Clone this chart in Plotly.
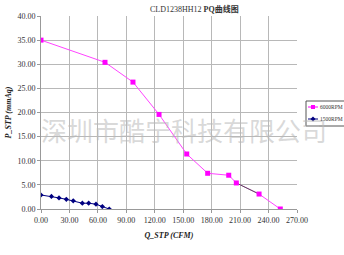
import plotly.graph_objects as go

q_6000 = [0, 67.5, 97, 124.5, 153.7, 175.8, 198, 206, 230, 252.4]
p_6000 = [35.0, 30.4, 26.3, 19.6, 11.4, 7.4, 7.0, 5.4, 3.1, 0.0]
q_1500 = [0, 11, 19, 26.7, 34, 43.6, 50.3, 58, 64.7, 72]
p_1500 = [2.9, 2.6, 2.3, 2.0, 1.7, 1.2, 1.2, 1.0, 0.5, 0.0]
x_ticks = [0, 30, 60, 90, 120, 150, 180, 210, 240, 270]
y_ticks = [0, 5, 10, 15, 20, 25, 30, 35, 40]
series_names = ["6000RPM", "1500RPM"]

PINK = "#ff00ff"
NAVY = "#000080"

fig = go.Figure()
fig.add_trace(go.Scatter(x=q_6000, y=p_6000, mode="lines", showlegend=False,
                         line=dict(color="#ff44ff", width=1)))
# highlighted (dark) segment seen in the original between two points
fig.add_trace(go.Scatter(x=q_6000[7:9], y=p_6000[7:9], mode="lines", showlegend=False,
                         line=dict(color="#555555", width=1)))
fig.add_trace(go.Scatter(x=q_6000, y=p_6000, mode="markers", name=series_names[0], showlegend=False,
                         marker=dict(symbol="square", size=5, color=PINK)))
fig.add_trace(go.Scatter(x=q_1500, y=p_1500, mode="lines+markers", name=series_names[1], showlegend=False,
                         line=dict(color=NAVY, width=1),
                         marker=dict(symbol="diamond", size=4, color=NAVY)))

tickfont = dict(family="Liberation Serif", size=8, color="#333333")
fig.update_layout(
    width=344, height=255,
    margin=dict(l=41, r=47, t=16, b=46, autoexpand=False),
    paper_bgcolor="white", plot_bgcolor="white",
    title=dict(text="CLD1238HH12 <b>PQ曲线图</b>", x=0.565, xanchor="center", y=0.963, yanchor="middle",
               font=dict(family="Liberation Serif, Noto Sans CJK SC", size=8, color="#333333")),
    xaxis=dict(range=[0, 270], tickvals=x_ticks, tickformat=".2f", tickangle=0, showgrid=True,
               gridcolor="#b8b8b8", gridwidth=1, zeroline=False, showline=True, linecolor="#999999",
               ticks="outside", ticklen=3, tickcolor="#999999", tickfont=tickfont, automargin=False,
               title=dict(text="<b><i>Q_STP (CFM)</i></b>", font=dict(family="Liberation Serif", size=8, color="#222222"), standoff=8)),
    yaxis=dict(range=[0, 40], tickvals=y_ticks, tickformat=".2f", showgrid=True,
               gridcolor="#b8b8b8", gridwidth=1, zeroline=False, showline=True, linecolor="#999999",
               ticks="outside", ticklen=3, tickcolor="#999999", tickfont=tickfont, automargin=False,
               title=dict(text="<b><i>P_STP (mmAq)</i></b>", font=dict(family="Liberation Serif", size=8, color="#222222"), standoff=4)),
    showlegend=False,
)

# watermark
fig.add_annotation(text="深圳市酷宁科技有限公司", xref="paper", yref="paper",
                   x=0.559, y=0.41, showarrow=False,
                   font=dict(family="Noto Sans CJK SC", size=26, color="rgba(185,185,185,0.55)"))

# manual legend box (partly beyond the right edge, as in the original)
def px(xp):
    return (xp - 41) / 256.0

def py(yp):
    return (209 - yp) / 193.0

fig.add_shape(type="rect", xref="paper", yref="paper", x0=px(306), x1=px(360), y0=py(126), y1=py(101),
              line=dict(color="#555555", width=1), fillcolor="white", layer="above")
for i, (name, col) in enumerate(zip(series_names, [PINK, NAVY])):
    yy = 107 + 12 * i
    fig.add_shape(type="line", xref="paper", yref="paper", x0=px(308), x1=px(318), y0=py(yy), y1=py(yy),
                  line=dict(color=col, width=1), layer="above")
    if i == 0:
        fig.add_shape(type="rect", xref="paper", yref="paper", x0=px(311), x1=px(315), y0=py(yy + 2), y1=py(yy - 2),
                      line=dict(color=col, width=0), fillcolor=col, layer="above")
    else:
        fig.add_shape(type="path", xref="paper", yref="paper",
                      path=f"M {px(313)},{py(yy-2.5)} L {px(315.5)},{py(yy)} L {px(313)},{py(yy+2.5)} L {px(310.5)},{py(yy)} Z",
                      line=dict(color=col, width=0), fillcolor=col, layer="above")
    fig.add_annotation(text=name, xref="paper", yref="paper", x=px(318.5), y=py(yy), xanchor="left", yanchor="middle",
                       showarrow=False, borderpad=0,
                       font=dict(family="Liberation Sans Narrow, Liberation Serif", size=5.5, color="#333333"))

fig.write_html("out.html", config={"displayModeBar": False},
               post_script="document.body.style.margin='0';document.body.style.padding='0';")
